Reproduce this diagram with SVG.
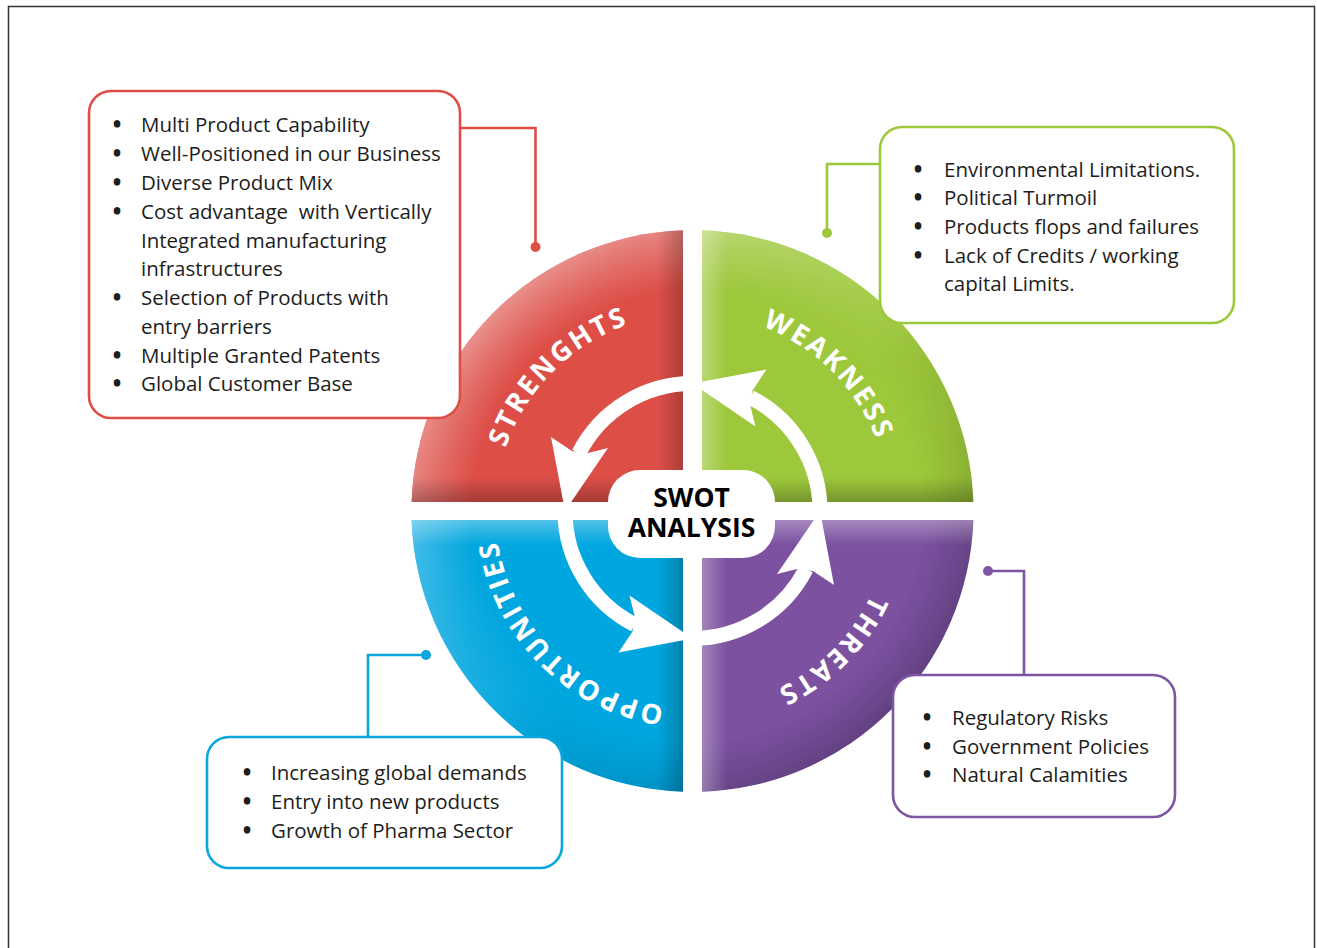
<svg xmlns="http://www.w3.org/2000/svg" xmlns:xlink="http://www.w3.org/1999/xlink" width="1317" height="948" viewBox="0 0 1317 948">
<style>
.frame{fill:none;stroke:#333;stroke-width:1.5}
.box{fill:#fff;stroke-width:2.6}
.body{font-family:"Open Sans","Liberation Sans",sans-serif;font-size:20.5px;fill:#1d1d1b}
.bul{font-weight:800}
.lbl{font-family:"Open Sans","Liberation Sans",sans-serif;font-size:27.5px;font-weight:700;fill:#fff;letter-spacing:2.5px}
.swot{font-family:"Open Sans","Liberation Sans",sans-serif;font-size:26.5px;font-weight:700;fill:#000;text-anchor:middle}
.conn{fill:none;stroke-width:2.6}
.ring{fill:none;stroke:#fff;stroke-width:15}
</style>
<defs>
<path id="qS" d="M411.6,502 A281,281 0 0 1 683,230.2 L683,502 Z"/>
<path id="qW" d="M702,230.2 A281,281 0 0 1 973.4,502 L702,502 Z"/>
<path id="qO" d="M411.6,520 L683,520 L683,791.8 A281,281 0 0 1 411.6,520 Z"/>
<path id="qT" d="M702,520 L973.4,520 A281,281 0 0 1 702,791.8 Z"/>
<clipPath id="discClip">
<use xlink:href="#qS"/><use xlink:href="#qW"/><use xlink:href="#qO"/><use xlink:href="#qT"/>
</clipPath>
<radialGradient id="rimLight" cx="692.5" cy="511" r="281" gradientUnits="userSpaceOnUse">
<stop offset="0.78" stop-color="#fff" stop-opacity="0"/>
<stop offset="1" stop-color="#fff" stop-opacity="0.5"/>
</radialGradient>
<radialGradient id="rimDark" cx="692.5" cy="511" r="281" gradientUnits="userSpaceOnUse">
<stop offset="0.82" stop-color="#000" stop-opacity="0"/>
<stop offset="1" stop-color="#000" stop-opacity="0.28"/>
</radialGradient>
<linearGradient id="lmg" x1="411" y1="230" x2="974" y2="792" gradientUnits="userSpaceOnUse">
<stop offset="0" stop-color="#fff"/>
<stop offset="0.58" stop-color="#000"/>
</linearGradient>
<linearGradient id="dmg" x1="411" y1="230" x2="974" y2="792" gradientUnits="userSpaceOnUse">
<stop offset="0.5" stop-color="#000"/>
<stop offset="1" stop-color="#fff"/>
</linearGradient>
<mask id="lightMask" maskUnits="userSpaceOnUse" x="0" y="0" width="1317" height="948"><rect x="400" y="220" width="590" height="590" fill="url(#lmg)"/></mask>
<mask id="darkMask" maskUnits="userSpaceOnUse" x="0" y="0" width="1317" height="948"><rect x="400" y="220" width="590" height="590" fill="url(#dmg)"/></mask>
<linearGradient id="shR" x1="0" y1="0" x2="1" y2="0"><stop offset="0" stop-color="#000" stop-opacity="0"/><stop offset="1" stop-color="#000" stop-opacity="0.22"/></linearGradient>
<linearGradient id="liL" x1="0" y1="0" x2="1" y2="0"><stop offset="0" stop-color="#fff" stop-opacity="0.3"/><stop offset="1" stop-color="#fff" stop-opacity="0"/></linearGradient>
<linearGradient id="shB" x1="0" y1="0" x2="0" y2="1"><stop offset="0" stop-color="#000" stop-opacity="0"/><stop offset="1" stop-color="#000" stop-opacity="0.25"/></linearGradient>
<linearGradient id="liT" x1="0" y1="0" x2="0" y2="1"><stop offset="0" stop-color="#fff" stop-opacity="0.32"/><stop offset="1" stop-color="#fff" stop-opacity="0"/></linearGradient>
<path id="arcS" d="M531.1,624 A197,197 0 0 1 805.5,349.6"/>
<path id="arcW" d="M579.5,349.6 A197,197 0 0 1 853.9,624"/>
<path id="arcT" d="M853.9,398 A197,197 0 0 1 579.5,672.4"/>
<path id="arcO" d="M805.5,672.4 A197,197 0 0 1 531.1,398"/>
<g id="cycArrow">
<path class="ring" d="M692.5,383.5 A127.5,127.5 0 0 0 578.9,453.1"/>
<polygon fill="#fff" points="551,437 565,511 608,448 588,453 572,451"/>
</g>
</defs>

<rect class="frame" x="8.5" y="6.5" width="1306" height="960"/>

<g id="swot-wheel">
<use xlink:href="#qS" fill="#DD4E47"/>
<use xlink:href="#qW" fill="#9DC83B"/>
<use xlink:href="#qO" fill="#00A6DF"/>
<use xlink:href="#qT" fill="#7B51A0"/>
<g clip-path="url(#discClip)">
<circle cx="692.5" cy="511" r="281" fill="url(#rimLight)" mask="url(#lightMask)"/>
<circle cx="692.5" cy="511" r="281" fill="url(#rimDark)" mask="url(#darkMask)"/>
<rect x="658" y="225" width="25" height="575" fill="url(#shR)"/>
<rect x="702" y="225" width="25" height="575" fill="url(#liL)"/>
<rect x="405" y="477" width="575" height="25" fill="url(#shB)"/>
<rect x="405" y="520" width="575" height="25" fill="url(#liT)"/>
</g>
<text class="lbl"><textPath xlink:href="#arcS" startOffset="50%" text-anchor="middle">STRENGHTS</textPath></text>
<text class="lbl"><textPath xlink:href="#arcW" startOffset="50%" text-anchor="middle">WEAKNESS</textPath></text>
<text class="lbl"><textPath xlink:href="#arcT" startOffset="50%" text-anchor="middle">THREATS</textPath></text>
<text class="lbl"><textPath xlink:href="#arcO" startOffset="50%" text-anchor="middle">OPPORTUNITIES</textPath></text>
</g>

<g id="cycle-arrows">
<use xlink:href="#cycArrow"/>
<use xlink:href="#cycArrow" transform="rotate(-90 692.5 511)"/>
<use xlink:href="#cycArrow" transform="rotate(180 692.5 511)"/>
<use xlink:href="#cycArrow" transform="rotate(90 692.5 511)"/>
</g>

<g id="center">
<rect x="608" y="470" width="167" height="88" rx="32" fill="#fff"/>
<text class="swot"><tspan x="691.5" y="506.5">SWOT</tspan><tspan x="691.5" y="537">ANALYSIS</tspan></text>
</g>

<g id="connectors">
<path class="conn" stroke="#DE4E47" d="M460,128 H535.5 V247"/>
<circle cx="535.5" cy="247" r="5" fill="#DE4E47"/>
<path class="conn" stroke="#9DC83B" d="M880,164 H827 V233"/>
<circle cx="827" cy="233" r="5" fill="#9DC83B"/>
<path class="conn" stroke="#0AA6DE" d="M368,737 V655 H426"/>
<circle cx="426" cy="655" r="5" fill="#0AA6DE"/>
<path class="conn" stroke="#7E55A3" d="M1024,675 V571 H988"/>
<circle cx="988" cy="571" r="5" fill="#7E55A3"/>
</g>

<g id="strengths-box">
<rect class="box" stroke="#DE4E47" x="89" y="91" width="371" height="327" rx="22"/>
<text class="body" y="132"><tspan class="bul" x="113">•</tspan><tspan x="141">Multi Product Capability</tspan></text>
<text class="body" y="161"><tspan class="bul" x="113">•</tspan><tspan x="141">Well-Positioned in our Business</tspan></text>
<text class="body" y="190"><tspan class="bul" x="113">•</tspan><tspan x="141">Diverse Product Mix</tspan></text>
<text class="body" y="219" xml:space="preserve"><tspan class="bul" x="113">•</tspan><tspan x="141">Cost advantage  with Vertically</tspan></text>
<text class="body" x="141" y="248">Integrated manufacturing</text>
<text class="body" x="141" y="276">infrastructures</text>
<text class="body" y="305"><tspan class="bul" x="113">•</tspan><tspan x="141">Selection of Products with</tspan></text>
<text class="body" x="141" y="334">entry barriers</text>
<text class="body" y="363"><tspan class="bul" x="113">•</tspan><tspan x="141">Multiple Granted Patents</tspan></text>
<text class="body" y="391"><tspan class="bul" x="113">•</tspan><tspan x="141">Global Customer Base</tspan></text>
</g>

<g id="weakness-box">
<rect class="box" stroke="#9DC83B" x="880" y="127" width="354" height="196" rx="22"/>
<text class="body" y="177"><tspan class="bul" x="914">•</tspan><tspan x="944">Environmental Limitations.</tspan></text>
<text class="body" y="205"><tspan class="bul" x="914">•</tspan><tspan x="944">Political Turmoil</tspan></text>
<text class="body" y="234"><tspan class="bul" x="914">•</tspan><tspan x="944">Products flops and failures</tspan></text>
<text class="body" y="263"><tspan class="bul" x="914">•</tspan><tspan x="944">Lack of Credits / working</tspan></text>
<text class="body" x="944" y="291">capital Limits.</text>
</g>

<g id="opportunities-box">
<rect class="box" stroke="#0AA6DE" x="207" y="737" width="355" height="131" rx="22"/>
<text class="body" y="780"><tspan class="bul" x="243">•</tspan><tspan x="271">Increasing global demands</tspan></text>
<text class="body" y="809"><tspan class="bul" x="243">•</tspan><tspan x="271">Entry into new products</tspan></text>
<text class="body" y="838"><tspan class="bul" x="243">•</tspan><tspan x="271">Growth of Pharma Sector</tspan></text>
</g>

<g id="threats-box">
<rect class="box" stroke="#7E55A3" x="893" y="675" width="282" height="142" rx="22"/>
<text class="body" y="725"><tspan class="bul" x="923">•</tspan><tspan x="952">Regulatory Risks</tspan></text>
<text class="body" y="754"><tspan class="bul" x="923">•</tspan><tspan x="952">Government Policies</tspan></text>
<text class="body" y="782"><tspan class="bul" x="923">•</tspan><tspan x="952">Natural Calamities</tspan></text>
</g>
</svg>
